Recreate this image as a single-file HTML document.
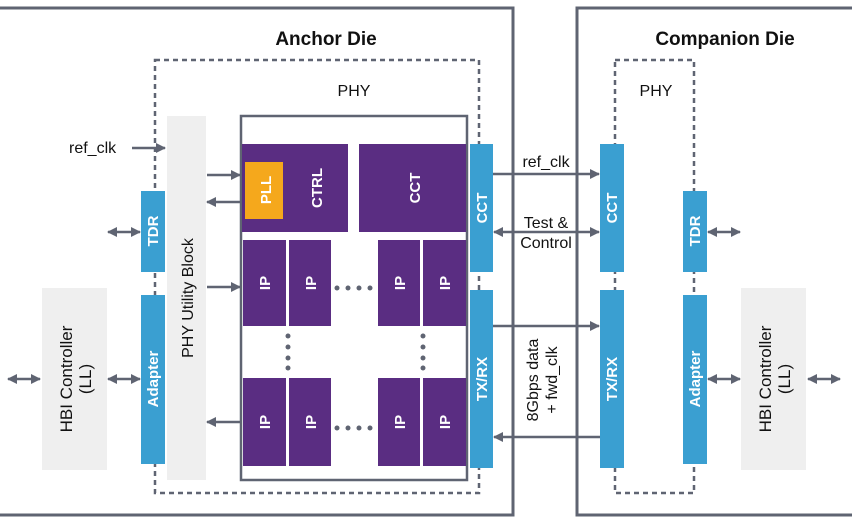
<!DOCTYPE html>
<html><head><meta charset="utf-8"><style>
html,body{margin:0;padding:0;background:#fff;}
svg{display:block;font-family:"Liberation Sans",Arial,sans-serif;}
</style></head><body>
<svg width="852" height="522" viewBox="0 0 852 522" xmlns="http://www.w3.org/2000/svg">
<defs>
<marker id="a" viewBox="0 0 10 10" refX="9" refY="5" markerWidth="4" markerHeight="4" orient="auto-start-reverse"><path d="M0,0 L10,5 L0,10 z" fill="#5f6472"/></marker>
</defs>
<path d="M0,8 H513 V515 H0" fill="none" stroke="#5f6472" stroke-width="3"/>
<path d="M852,8 H577 V515 H852" fill="none" stroke="#5f6472" stroke-width="3"/>
<text x="326" y="45" font-size="19" font-weight="bold" text-anchor="middle" fill="#111">Anchor Die</text>
<text x="725" y="45" font-size="19" font-weight="bold" text-anchor="middle" fill="#111">Companion Die</text>
<rect x="155" y="60" width="324" height="433" fill="none" stroke="#5f6472" stroke-width="2.5" stroke-dasharray="5,4"/>
<rect x="615" y="60" width="79" height="433" fill="none" stroke="#5f6472" stroke-width="2.5" stroke-dasharray="5,4"/>
<text x="354" y="96" font-size="16" text-anchor="middle" fill="#111">PHY</text>
<text x="656" y="96" font-size="16" text-anchor="middle" fill="#111">PHY</text>
<rect x="241" y="116" width="226" height="364" fill="#fff" stroke="#5f6472" stroke-width="2.5"/>
<rect x="167" y="116" width="39" height="364" fill="#efefef"/>
<text transform="translate(193,298) rotate(-90)" font-size="16" text-anchor="middle" fill="#111">PHY Utility Block</text>
<rect x="42" y="288" width="65" height="182" fill="#efefef"/>
<text transform="translate(72,379) rotate(-90)" font-size="17" text-anchor="middle" fill="#111">HBI Controller</text>
<text transform="translate(91,379) rotate(-90)" font-size="17" text-anchor="middle" fill="#111">(LL)</text>
<rect x="741" y="288" width="65" height="182" fill="#efefef"/>
<text transform="translate(771,379) rotate(-90)" font-size="17" text-anchor="middle" fill="#111">HBI Controller</text>
<text transform="translate(790,379) rotate(-90)" font-size="17" text-anchor="middle" fill="#111">(LL)</text>
<rect x="242" y="144" width="106" height="88" fill="#5a2d82"/>
<rect x="245" y="162" width="38" height="57" fill="#f5a81c"/>
<text transform="translate(271,190) rotate(-90)" font-size="15" font-weight="bold" text-anchor="middle" fill="#fff">PLL</text>
<text transform="translate(322,188) rotate(-90)" font-size="15" font-weight="bold" text-anchor="middle" fill="#fff">CTRL</text>
<rect x="359" y="144" width="107" height="88" fill="#5a2d82"/>
<text transform="translate(420,188) rotate(-90)" font-size="15" font-weight="bold" text-anchor="middle" fill="#fff">CCT</text>
<g fill="#5a2d82">
<rect x="243" y="240" width="43" height="86"/><rect x="289" y="240" width="42" height="86"/>
<rect x="378" y="240" width="42" height="86"/><rect x="423" y="240" width="43" height="86"/>
<rect x="243" y="378" width="43" height="88"/><rect x="289" y="378" width="42" height="88"/>
<rect x="378" y="378" width="42" height="88"/><rect x="423" y="378" width="43" height="88"/>
</g>
<g font-size="15" font-weight="bold" fill="#fff" text-anchor="middle">
<text transform="translate(270,283) rotate(-90)">IP</text><text transform="translate(316,283) rotate(-90)">IP</text>
<text transform="translate(405,283) rotate(-90)">IP</text><text transform="translate(450,283) rotate(-90)">IP</text>
<text transform="translate(270,422) rotate(-90)">IP</text><text transform="translate(316,422) rotate(-90)">IP</text>
<text transform="translate(405,422) rotate(-90)">IP</text><text transform="translate(450,422) rotate(-90)">IP</text>
</g>
<g fill="#5f6472">
<circle cx="337" cy="288" r="2.5"/><circle cx="348" cy="288" r="2.5"/><circle cx="359" cy="288" r="2.5"/><circle cx="370" cy="288" r="2.5"/>
<circle cx="337" cy="428" r="2.5"/><circle cx="348" cy="428" r="2.5"/><circle cx="359" cy="428" r="2.5"/><circle cx="370" cy="428" r="2.5"/>
<circle cx="288" cy="336" r="2.5"/><circle cx="288" cy="347" r="2.5"/><circle cx="288" cy="358" r="2.5"/><circle cx="288" cy="368" r="2.5"/>
<circle cx="423" cy="336" r="2.5"/><circle cx="423" cy="347" r="2.5"/><circle cx="423" cy="358" r="2.5"/><circle cx="423" cy="368" r="2.5"/>
</g>
<g fill="#3a9fd1">
<rect x="470" y="144" width="23" height="128"/><rect x="470" y="290" width="23" height="178"/>
<rect x="141" y="191" width="24" height="81"/><rect x="141" y="295" width="24" height="169"/>
<rect x="600" y="144" width="24" height="128"/><rect x="600" y="290" width="24" height="178"/>
<rect x="683" y="191" width="24" height="81"/><rect x="683" y="295" width="24" height="169"/>
</g>
<g font-size="15" font-weight="bold" fill="#fff" text-anchor="middle">
<text transform="translate(487,208) rotate(-90)">CCT</text>
<text transform="translate(487,379) rotate(-90)">TX/RX</text>
<text transform="translate(158,231) rotate(-90)">TDR</text>
<text transform="translate(158,379) rotate(-90)">Adapter</text>
<text transform="translate(617,208) rotate(-90)">CCT</text>
<text transform="translate(617,379) rotate(-90)">TX/RX</text>
<text transform="translate(700,231) rotate(-90)">TDR</text>
<text transform="translate(700,379) rotate(-90)">Adapter</text>
</g>
<g stroke="#5f6472" stroke-width="2.5" fill="none">
<line x1="132" y1="148" x2="165" y2="148" marker-end="url(#a)"/>
<line x1="207" y1="175" x2="240" y2="175" marker-end="url(#a)"/>
<line x1="240" y1="202" x2="207" y2="202" marker-end="url(#a)"/>
<line x1="207" y1="287" x2="240" y2="287" marker-end="url(#a)"/>
<line x1="240" y1="422" x2="207" y2="422" marker-end="url(#a)"/>
<line x1="108" y1="232" x2="140" y2="232" marker-start="url(#a)" marker-end="url(#a)"/>
<line x1="108" y1="379" x2="140" y2="379" marker-start="url(#a)" marker-end="url(#a)"/>
<line x1="8" y1="379" x2="40" y2="379" marker-start="url(#a)" marker-end="url(#a)"/>
<line x1="493" y1="174" x2="599" y2="174" marker-end="url(#a)"/>
<line x1="494" y1="232" x2="599" y2="232" marker-start="url(#a)" marker-end="url(#a)"/>
<line x1="493" y1="326" x2="599" y2="326" marker-end="url(#a)"/>
<line x1="600" y1="437" x2="494" y2="437" marker-end="url(#a)"/>
<line x1="708" y1="232" x2="740" y2="232" marker-start="url(#a)" marker-end="url(#a)"/>
<line x1="708" y1="379" x2="740" y2="379" marker-start="url(#a)" marker-end="url(#a)"/>
<line x1="808" y1="379" x2="840" y2="379" marker-start="url(#a)" marker-end="url(#a)"/>
</g>
<g font-size="16" fill="#111">
<text x="69" y="153">ref_clk</text>
<text x="546" y="167" text-anchor="middle">ref_clk</text>
<text x="546" y="228" text-anchor="middle">Test &amp;</text>
<text x="546" y="248" text-anchor="middle">Control</text>
<text transform="translate(538,380) rotate(-90)" text-anchor="middle">8Gbps data</text>
<text transform="translate(557,380) rotate(-90)" text-anchor="middle">+ fwd_clk</text>
</g>
</svg>
</body></html>
